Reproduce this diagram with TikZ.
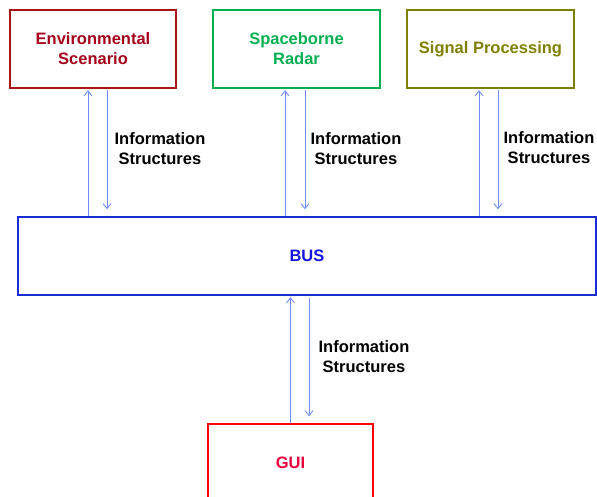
\documentclass[tikz,border=0pt]{standalone}
\usepackage{fontspec}
\setmainfont{Liberation Sans}
\usetikzlibrary{arrows.meta,calc}
\definecolor{envc}{RGB}{170,20,20}
\definecolor{envt}{RGB}{165,0,25}
\definecolor{radc}{RGB}{0,176,80}
\definecolor{sigc}{RGB}{128,128,0}
\definecolor{busc}{RGB}{25,45,210}
\definecolor{bust}{RGB}{20,20,220}
\definecolor{guic}{RGB}{255,0,0}
\definecolor{guit}{RGB}{235,0,60}
\definecolor{arrc}{RGB}{110,140,255}
\tikzset{
  box/.style={draw, line width=1.4pt, minimum width=166pt, minimum height=78pt, inner sep=0pt,
    align=center, font=\fontsize{16.5}{20}\selectfont\bfseries},
  lbl/.style={align=center, font=\fontsize{16.5}{20}\selectfont\bfseries, text=black, inner sep=0pt},
  arr/.style={draw=arrc, line width=0.9pt, -{Straight Barb[length=5pt,width=8pt]}}
}
\begin{document}
\begin{tikzpicture}[x=1pt,y=-1pt]
\useasboundingbox (0,0) rectangle (597,497);
\clip (0,0) rectangle (597,497);
\node[box, draw=envc, text=envt] (env) at (93,49) {Environmental\\Scenario};
\node[box, draw=radc, text=radc, minimum width=167pt] (rad) at (296.5,49) {Spaceborne\\Radar};
\node[box, draw=sigc, text=sigc, minimum width=167pt] (sig) at (490.5,49) {Signal Processing};
\node[box, draw=busc, text=bust, minimum width=578pt] (bus) at (307,256) {BUS};
\node[box, draw=guic, text=guit, minimum width=165pt] (gui) at (290.5,463) {GUI};

\draw[arr, shorten >=1.5pt] ([xshift=-5pt]env.south |- bus.north) -- ([xshift=-5pt]env.south);
\draw[arr, shorten <=1.5pt, shorten >=7pt] ([xshift=14pt]env.south) -- ([xshift=14pt]env.south |- bus.north);
\draw[arr, shorten >=1.5pt] ([xshift=-11.5pt]rad.south |- bus.north) -- ([xshift=-11.5pt]rad.south);
\draw[arr, shorten <=1.5pt, shorten >=7pt] ([xshift=8.5pt]rad.south) -- ([xshift=8.5pt]rad.south |- bus.north);
\draw[arr, shorten >=1.5pt] ([xshift=-11.5pt]sig.south |- bus.north) -- ([xshift=-11.5pt]sig.south);
\draw[arr, shorten <=1.5pt, shorten >=7pt] ([xshift=7.5pt]sig.south) -- ([xshift=7.5pt]sig.south |- bus.north);
\draw[arr, shorten >=1.5pt] (gui.north) -- (gui.north |- bus.south);
\draw[arr, shorten <=2.5pt, shorten >=7pt] ([xshift=18.5pt]gui.north |- bus.south) -- ([xshift=18.5pt]gui.north);

\node[lbl] (l1) at (160,149) {Information\\Structures};
\node[lbl] (l2) at (356,149) {Information\\Structures};
\node[lbl] (l3) at (549,148) {Information\\Structures};
\node[lbl] (l4) at (364,357) {Information\\Structures};
\end{tikzpicture}
\end{document}
